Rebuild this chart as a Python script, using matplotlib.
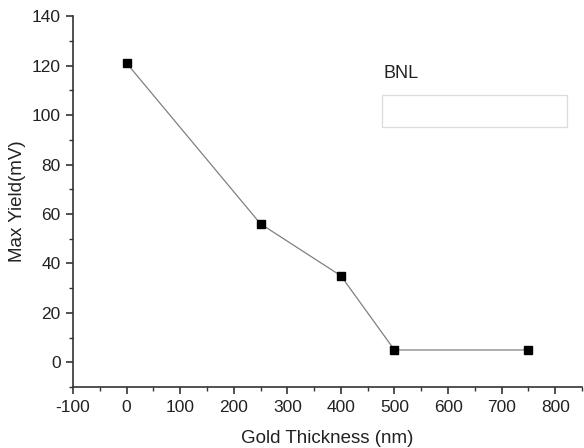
import numpy as np
import matplotlib.pyplot as plt
from matplotlib.patches import Rectangle
from matplotlib.ticker import MultipleLocator

plt.rcParams['font.family'] = ['Liberation Sans', 'DejaVu Sans']
plt.rcParams['axes.unicode_minus'] = False

thickness = [0, 250, 400, 500, 750]
max_yield = [121, 56, 35, 5, 5]

fig = plt.figure(figsize=(5.84, 4.48), dpi=100)
ax = fig.add_axes([0.125, 0.136, 0.8716, 0.828])

ax.plot(thickness, max_yield, color='#808080', lw=0.9, zorder=2)
ax.plot(thickness, max_yield, ls='none', marker='s', ms=6, color='black', zorder=3)

ax.set_xlim(-100, 850)
ax.set_ylim(-10, 140)
ax.xaxis.set_major_locator(MultipleLocator(100))
ax.xaxis.set_minor_locator(MultipleLocator(50))
ax.yaxis.set_major_locator(MultipleLocator(20))
ax.yaxis.set_minor_locator(MultipleLocator(10))

for s in ['top', 'right']:
    ax.spines[s].set_visible(False)
for s in ['left', 'bottom']:
    ax.spines[s].set_linewidth(1.2)
    ax.spines[s].set_color('#333333')

ax.tick_params(which='major', direction='out', length=5, width=1.2, labelsize=12.5,
               colors='#333333', labelcolor='#222222', pad=4)
ax.tick_params(which='minor', direction='out', length=3, width=1.0, colors='#333333')

ax.set_xlabel('Gold Thickness (nm)', fontsize=13.5, color='#222222', labelpad=11)
ax.set_ylabel('Max Yield(mV)', fontsize=13.5, color='#222222', labelpad=4)

# legend-like box
ax.add_patch(Rectangle((476, 95), 346, 13, fill=False, ec='#dcdcdc', lw=0.9,
                       transform=ax.transData, clip_on=False))
ax.text(480, 117, 'BNL', fontsize=13, color='#222222', va='center', ha='left')

fig.savefig('out.png', dpi=100)
